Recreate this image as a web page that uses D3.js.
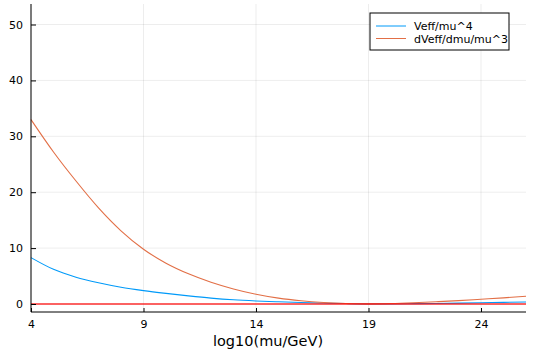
<!DOCTYPE html>
<html>
<head>
<meta charset="utf-8">
<script src="https://cdn.jsdelivr.net/npm/d3@7"></script>
<style>
  body { margin: 0; background: #fff; }
  svg { display: block; font-family: 'DejaVu Sans', sans-serif; }
  .grid line { stroke: #000; stroke-opacity: 0.07; }
  .tick-label { font-size: 11px; fill: #000; }
</style>
</head>
<body>
<svg id="chart" width="544" height="354"></svg>
<script>
const logMu = [4, 5, 6, 7, 8, 9, 10, 11, 12, 13, 14, 15, 16, 17, 18, 19, 20, 21, 22, 23, 24, 25, 26]
const veff = [8.3, 6.2, 4.8, 3.8, 3.0, 2.4, 1.9, 1.45, 1.05, 0.75, 0.55, 0.4, 0.27, 0.17, 0.08, 0.03, 0.03, 0.06, 0.1, 0.15, 0.22, 0.3, 0.37]
const dveff = [33.0, 27.2, 22.0, 17.2, 13.1, 9.8, 7.3, 5.4, 3.9, 2.7, 1.75, 1.05, 0.58, 0.27, 0.09, 0.02, 0.08, 0.22, 0.4, 0.6, 0.85, 1.1, 1.4]
const xTicks = [4, 9, 14, 19, 24]
const yTicks = [0, 10, 20, 30, 40, 50]
const seriesNames = ['Veff/mu^4', 'dVeff/dmu/mu^3']
const seriesColors = ['#009af9', '#e26f46']

const svg = d3.select('#chart')
const x = d3.scaleLinear().domain([4, 26]).range([31, 526])
const y = d3.scaleLinear().domain([-1.43, 53.67]).range([312, 4])

// grid
const grid = svg.append('g').attr('class', 'grid')
grid.selectAll('line.gx').data(xTicks)
  .enter().append('line')
  .attr('x1', d => x(d)).attr('x2', d => x(d))
  .attr('y1', y.range()[0]).attr('y2', y.range()[1])
grid.selectAll('line.gy').data(yTicks)
  .enter().append('line')
  .attr('y1', d => y(d)).attr('y2', d => y(d))
  .attr('x1', x.range()[0]).attr('x2', x.range()[1])

// series
const line = d3.line().curve(d3.curveMonotoneX)
const series = [veff, dveff]
series.forEach((vals, i) => {
  svg.append('path')
    .datum(logMu.map((m, j) => [x(m), y(vals[j])]))
    .attr('d', line)
    .attr('fill', 'none')
    .attr('stroke', seriesColors[i])
    .attr('stroke-width', 1.1)
})

// horizontal zero line
svg.append('line')
  .attr('x1', x.range()[0]).attr('x2', x.range()[1])
  .attr('y1', y(0)).attr('y2', y(0))
  .attr('stroke', '#ff0000')
  .attr('stroke-opacity', 0.6)
  .attr('stroke-width', 2)

// axes
const xAxis = d3.axisBottom(x).tickValues(xTicks).tickSize(-4).tickPadding(8)
const yAxis = d3.axisLeft(y).tickValues(yTicks).tickSize(-5).tickPadding(8)

const gx = svg.append('g').attr('transform', `translate(0, ${y.range()[0]})`).call(xAxis)
const gy = svg.append('g').attr('transform', `translate(${x.range()[0]}, 0)`).call(yAxis)
;[gx, gy].forEach(g => {
  g.select('.domain').attr('stroke', '#000').attr('stroke-width', 1)
  g.selectAll('.tick line').attr('stroke', '#000')
  g.selectAll('.tick text').attr('class', 'tick-label')
    .style('font-family', "'DejaVu Sans', sans-serif").style('font-size', '11px')
})
gx.select('.domain').attr('d', `M${x.range()[0]},0H${x.range()[1]}`)
gy.select('.domain').attr('d', `M0,${y.range()[0]}V${y.range()[1]}`)

svg.append('text')
  .attr('x', 268).attr('y', 346)
  .attr('text-anchor', 'middle')
  .style('font-size', '14.5px')
  .text('log10(mu/GeV)')

// legend
const legend = svg.append('g')
legend.append('rect')
  .attr('x', 370).attr('y', 13).attr('width', 139).attr('height', 37)
  .attr('fill', '#fff').attr('stroke', '#000').attr('stroke-width', 1)
seriesNames.forEach((name, i) => {
  const ly = 26 + i * 12.5
  legend.append('line')
    .attr('x1', 376).attr('x2', 406).attr('y1', ly).attr('y2', ly)
    .attr('stroke', seriesColors[i])
  legend.append('text')
    .attr('x', 414).attr('y', ly + 4)
    .style('font-size', '11px')
    .text(name)
})
</script>
</body>
</html>
